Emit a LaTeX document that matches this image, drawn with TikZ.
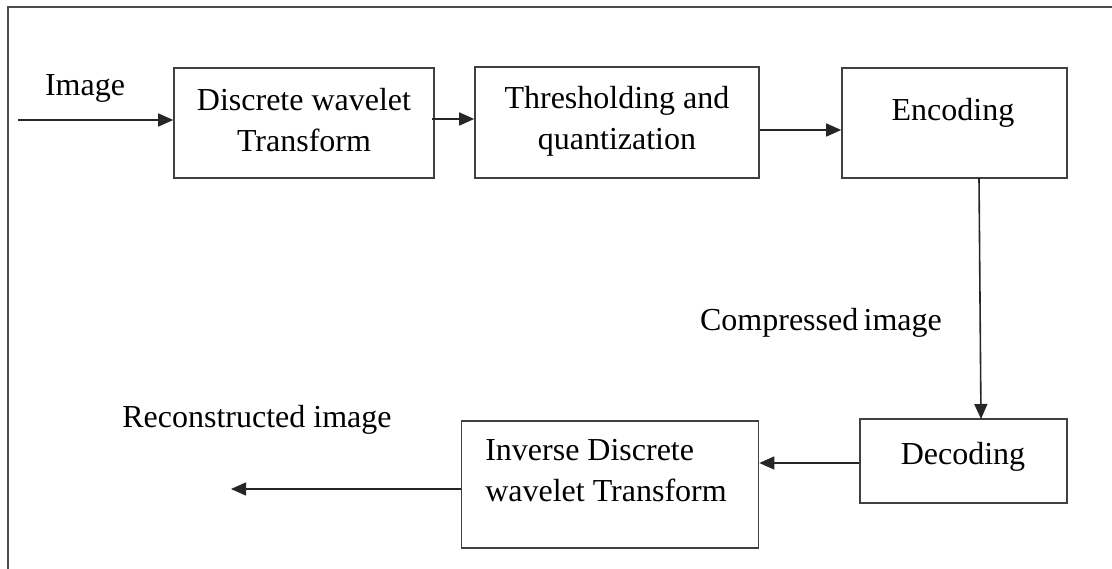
\documentclass[tikz,border=0pt]{standalone}
\usepackage{fontspec}
\setmainfont{Liberation Serif}
\usetikzlibrary{arrows.meta}
\begin{document}
\begin{tikzpicture}[x=1pt,y=-1pt,
  every node/.style={font=\fontsize{32}{41}\selectfont, inner sep=0pt},
  block/.style={draw=black!75, line width=1.6pt, rectangle, minimum width=#1},
  label/.style={align=center},
  flow/.style={line width=1.6pt, draw=black!85, -{Triangle[length=15pt,width=13pt]}}]
  \useasboundingbox (0,0) rectangle (1112,569);
  % outer frame (top and left edges)
  \draw[line width=2.6pt, draw=black!70] (8,569) -- (8,7) -- (1112,7);

  % processing blocks
  \node[block=260pt, minimum height=110pt] (dwt) at (304,123) {};
  \node[label] (dwtt) at (304,120) {Discrete wavelet\\Transform};
  \node[block=284pt, minimum height=111pt] (thr) at (617,122.5) {};
  \node[label] (thrt) at (617,121) {Thresholding and\\quantization};
  \node[block=225pt, minimum height=110pt] (enc) at (954.5,123) {};
  \node[label] (enct) at (953,113) {Encoding};
  \node[block=207pt, minimum height=84pt] (dec) at (963.5,461) {};
  \node[label] (dect) at (963,457) {Decoding};
  \node[block=297pt, minimum height=127pt] (idwt) at (610,484.5) {};
  \node[align=left] (idwtt) at (606,471) {Inverse Discrete\\wavelet Transform};

  % free labels
  \node (img) at (85,88) {Image};
  \node (cmp) at (821,323) {Compressed\,image};
  \node (rec) at (257,420) {Reconstructed image};

  % connector end points
  \coordinate (in) at (18,120);
  \coordinate (out) at (231,489);

  % connectors
  \draw[flow] (in) -- (dwt.west |- in);
  \draw[flow] (432,119) -- (thr.west |- 0,119);
  \draw[flow] (thr.east |- 0,130) -- (enc.west |- 0,130);
  \draw[flow] (979,178) -- (981,419);
  \draw[flow] (dec.west |- 0,463) -- (idwt.east |- 0,463);
  \draw[flow] (idwt.west |- out) -- (out);
\end{tikzpicture}
\end{document}
